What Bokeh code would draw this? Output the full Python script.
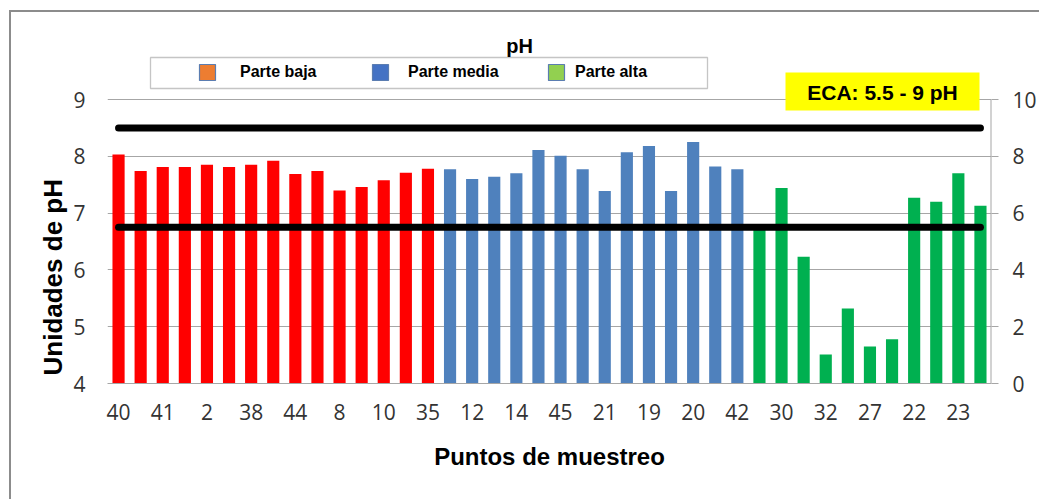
import numpy as np
from bokeh.plotting import figure
from bokeh.models import (Range1d, LinearAxis, FixedTicker, Label, BoxAnnotation,
                          Legend, LegendItem, Title, InlineStyleSheet)
from bokeh.embed import file_html
from bokeh.resources import INLINE

# ---------------- data ----------------
tick_labels = ["40", "41", "2", "38", "44", "8", "10", "35", "12", "14",
               "45", "21", "19", "20", "42", "30", "32", "27", "22", "23"]
parte_baja = [8.03, 7.74, 7.81, 7.81, 7.85, 7.81, 7.85, 7.92, 7.69, 7.74,
              7.40, 7.46, 7.58, 7.71, 7.78]
parte_media = [7.77, 7.60, 7.64, 7.70, 8.11, 8.01, 7.77, 7.39, 8.07, 8.18,
               7.39, 8.25, 7.82, 7.77]
parte_alta = [6.78, 7.44, 6.23, 4.51, 5.32, 4.65, 4.78, 7.27, 7.20, 7.70, 7.13]
eca_limits = [5.5, 9.0]
series_names = ["Parte baja", "Parte media", "Parte alta"]
bar_colors = ["#FF0000", "#4F81BD", "#00B050"]
legend_colors = ["#ED7D31", "#4472C4", "#92D050"]
left_ticks = [4, 5, 6, 7, 8, 9]
right_ticks = [0, 2, 4, 6, 8, 10]

series = [parte_baja, parte_media, parte_alta]
n_total = sum(len(s) for s in series)

TICK_FONT = "Open Sans"
BOLD_FONT = "Liberation Sans"
GRID = "#A6A6A6"

W, H = 1039, 499
FL, FR, FB = 107, 991, 383          # frame edges in pixels
PXX = (FR - FL) / n_total           # px per category
PXY = 56.8                          # px per pH unit (left axis)
y_top = 4 + FB / PXY
r_top = (FB / PXY) * 2              # right axis: 2 units per pH unit

p = figure(width=W, height=H,
           x_range=Range1d(0.5, n_total + 0.5), y_range=Range1d(4, y_top),
           output_backend="svg", toolbar_location=None,
           min_border_left=FL, min_border_right=W - FR,
           min_border_top=0, min_border_bottom=H - FB)
p.extra_y_ranges = {"right": Range1d(0, r_top)}
p.outline_line_color = None
p.background_fill_color = None
p.border_fill_color = None
# outer chart-area border (left and top edges only, as in the reference)
border_svg = ("data:image/svg+xml;utf8,<svg xmlns='http://www.w3.org/2000/svg' "
              f"width='{W}' height='{H}'><path d='M10 {H} V11 H{W}' "
              "stroke='%238C8C8C' stroke-width='2' fill='none'/></svg>")
p.stylesheets = [InlineStyleSheet(
    css=f":host {{ background: url(\"{border_svg}\") 0 0 / {W}px {H}px no-repeat #FFFFFF; }}")]


def px_x(px):
    return (px - FL) / PXX + 0.5


def px_y(py):
    return 4 + (FB - py) / PXY


# x axis
xax = p.xaxis[0]
xax.ticker = FixedTicker(ticks=list(range(1, n_total + 1, 2)))
xax.major_label_overrides = {i: lab for i, lab in zip(range(1, n_total + 1, 2), tick_labels)}
xax.axis_line_color = GRID
xax.major_tick_line_color = None
xax.minor_tick_line_color = None
xax.major_tick_out = 0
xax.major_label_standoff = 20
xax.major_label_text_font = TICK_FONT
xax.major_label_text_font_size = "21px"
xax.major_label_text_color = "#333333"
xax.axis_label = "Puntos de muestreo"
xax.axis_label_text_font = BOLD_FONT
xax.axis_label_text_font_style = "bold"
xax.axis_label_text_font_size = "24px"
xax.axis_label_text_color = "black"
xax.axis_label_standoff = 20

# left y axis
yax = p.yaxis[0]
yax.ticker = FixedTicker(ticks=left_ticks)
yax.axis_line_color = None
yax.major_tick_line_color = None
yax.minor_tick_line_color = None
yax.major_tick_out = 0
yax.major_label_standoff = 22
yax.major_label_text_font = TICK_FONT
yax.major_label_text_font_size = "21px"
yax.major_label_text_color = "#333333"

# y axis title as a side-panel title
p.add_layout(Title(text="Unidades de pH", align="left", offset=8, standoff=6,
                   text_font=BOLD_FONT, text_font_style="bold",
                   text_font_size="26px", text_color="black"), "left")

# right y axis
rax = LinearAxis(y_range_name="right", ticker=FixedTicker(ticks=right_ticks))
rax.axis_line_color = None
rax.major_tick_line_color = GRID
rax.minor_tick_line_color = None
rax.major_tick_out = 7
rax.major_tick_in = 0
rax.major_label_standoff = 14
rax.major_label_text_font = TICK_FONT
rax.major_label_text_font_size = "21px"
rax.major_label_text_color = "#333333"
p.add_layout(rax, "right")
# right axis line (0..10 only)
p.segment(x0=[n_total + 0.5], y0=[right_ticks[0]], x1=[n_total + 0.5], y1=[right_ticks[-1]],
          y_range_name="right", line_color=GRID, line_width=2)

p.xgrid.grid_line_color = None
p.ygrid.grid_line_color = GRID
p.ygrid.ticker = FixedTicker(ticks=left_ticks)

# bars
start = 1
for vals, col in zip(series, bar_colors):
    xs = list(range(start, start + len(vals)))
    p.vbar(x=xs, top=vals, bottom=4, width=0.55, fill_color=col, line_color=None)
    start += len(vals)

# ECA limits (right axis)
for lim in eca_limits:
    p.line(x=[1, n_total], y=[lim, lim], y_range_name="right",
           line_color="black", line_width=7, line_cap="round")

# legend box
p.add_layout(BoxAnnotation(left=px_x(150), right=px_x(707), top=px_y(57), bottom=px_y(88),
                           fill_color="white", fill_alpha=1, line_color="#404040",
                           line_width=1.3))

# legends (one per item for exact placement)
leg_pos = [(90, FB - 82, 23), (263, FB - 82, 18), (439, FB - 82, 9)]
for name, col, (lx, ly, st) in zip(series_names, legend_colors, leg_pos):
    r = p.vbar(x=[np.nan], top=[np.nan], width=0.5, fill_color=col,
               line_color="#5B7DB1", line_width=1.2)
    leg = Legend(items=[LegendItem(label=name, renderers=[r])], location=(lx, ly),
                 orientation="horizontal", border_line_color=None,
                 background_fill_alpha=0, padding=0, margin=0,
                 glyph_width=20, glyph_height=20, label_height=20,
                 label_standoff=st, label_text_font=BOLD_FONT,
                 label_text_font_style="bold", label_text_font_size="16px",
                 label_text_color="black")
    p.add_layout(leg)

# ECA yellow box
p.add_layout(BoxAnnotation(left=px_x(785), right=px_x(979), top=px_y(72), bottom=px_y(110),
                           fill_color="#FFFF00", fill_alpha=1, line_color=None))
p.add_layout(Label(x=px_x(882), y=px_y(92), text="ECA: 5.5 - 9 pH", text_align="center",
                   text_baseline="middle", text_font=BOLD_FONT, text_font_style="bold",
                   text_font_size="21px", text_color="black"))

# title
p.add_layout(Label(x=px_x(519), y=px_y(45), text="pH", text_align="center",
                   text_baseline="middle", text_font=BOLD_FONT, text_font_style="bold",
                   text_font_size="20px", text_color="black"))

open("out.html", "w").write(file_html(p, INLINE))
